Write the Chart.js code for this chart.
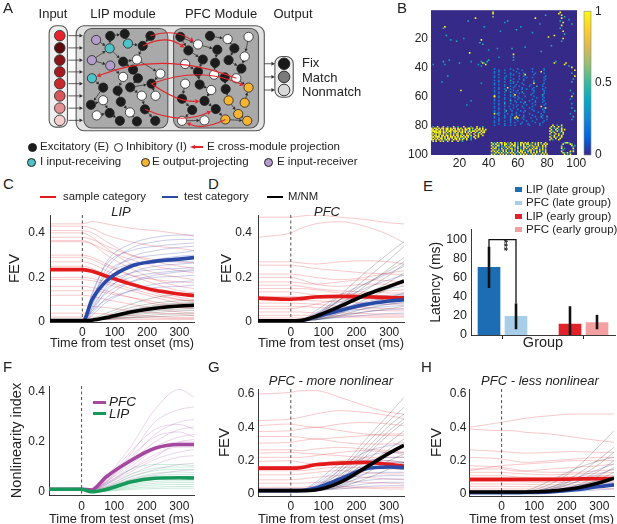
<!DOCTYPE html>
<html><head><meta charset="utf-8">
<script src="https://cdn.jsdelivr.net/npm/chart.js@4.4.1/dist/chart.umd.min.js"></script>
<style>
html,body{margin:0;padding:0;width:617px;height:524px;overflow:hidden;background:#fff;font-family:"Liberation Sans",Arial,sans-serif;color:#222}
canvas{position:absolute}
.t{position:absolute;white-space:nowrap;line-height:1}
.m{position:absolute;box-sizing:border-box}
</style></head><body>
<script>
// ---------------- DATA ----------------
const T = [-100, 0, 30, 75, 150, 225, 300, 345];
const timeTicks = [0, 100, 200, 300];
const fevTicksLow = [0, 0.2, 0.4];
const fevTicksHigh = [0, 0.2, 0.4, 0.6];
const nlTicks = [0, 0.2, 0.4];

// Panel C (LIP)
const cRedThin = [
 [0.44,0.44,0.45,0.44,0.42,0.41,0.395,0.385],
 [0.43,0.43,0.42,0.39,0.36,0.34,0.33,0.32],
 [0.41,0.41,0.40,0.36,0.30,0.27,0.25,0.24],
 [0.40,0.40,0.38,0.33,0.26,0.22,0.20,0.19],
 [0.38,0.38,0.37,0.34,0.30,0.28,0.27,0.265],
 [0.365,0.365,0.35,0.30,0.24,0.19,0.16,0.15],
 [0.36,0.36,0.35,0.32,0.28,0.25,0.23,0.22],
 [0.30,0.30,0.29,0.26,0.21,0.17,0.14,0.13],
 [0.29,0.29,0.28,0.25,0.21,0.19,0.18,0.175],
 [0.27,0.27,0.26,0.23,0.18,0.14,0.11,0.10],
 [0.25,0.25,0.24,0.21,0.17,0.13,0.10,0.09],
 [0.20,0.20,0.195,0.18,0.15,0.12,0.10,0.095],
 [0.19,0.19,0.185,0.17,0.14,0.11,0.085,0.075],
 [0.16,0.16,0.155,0.14,0.11,0.08,0.065,0.06],
 [0.14,0.14,0.14,0.13,0.11,0.09,0.07,0.065],
 [0.12,0.12,0.115,0.10,0.08,0.06,0.045,0.04],
 [0.075,0.075,0.07,0.065,0.05,0.04,0.035,0.03],
 [0.04,0.04,0.04,0.035,0.03,0.025,0.02,0.02],
 [0.022,0.022,0.022,0.02,0.02,0.018,0.015,0.015],
 [0.012,0.012,0.012,0.012,0.012,0.012,0.012,0.012]
];
const cBlueThin = [
 [0,0,0.12,0.27,0.35,0.38,0.39,0.39],
 [0,0,0.10,0.24,0.33,0.36,0.37,0.37],
 [0,0,0.13,0.26,0.32,0.34,0.35,0.355],
 [0,0,0.08,0.20,0.29,0.32,0.335,0.34],
 [0,0,0.10,0.22,0.28,0.30,0.31,0.32],
 [0,0,0.06,0.16,0.25,0.28,0.295,0.30],
 [0,0,0.09,0.19,0.25,0.27,0.28,0.285],
 [0,0,0.05,0.14,0.22,0.25,0.26,0.265],
 [0,0,0.08,0.17,0.22,0.235,0.24,0.245],
 [0,0,0.04,0.11,0.18,0.21,0.225,0.23],
 [0,0,0.06,0.13,0.18,0.20,0.205,0.21],
 [0,0,0.03,0.09,0.14,0.17,0.18,0.185],
 [0,0,0.05,0.10,0.14,0.155,0.16,0.165],
 [0,0,0.07,0.15,0.20,0.22,0.23,0.235],
 [0,0,0.11,0.21,0.26,0.27,0.27,0.27]
];
const cBlackThin = [
 [0.01,0.01,0.015,0.04,0.08,0.11,0.125,0.13],
 [0.01,0.01,0.012,0.03,0.065,0.085,0.095,0.097],
 [0.008,0.008,0.01,0.025,0.055,0.075,0.085,0.088],
 [0.01,0.01,0.011,0.02,0.045,0.065,0.075,0.078],
 [0.006,0.006,0.008,0.018,0.04,0.058,0.066,0.068],
 [0.01,0.01,0.01,0.015,0.035,0.05,0.058,0.06],
 [0.008,0.008,0.009,0.014,0.03,0.042,0.05,0.052],
 [0.005,0.005,0.007,0.012,0.022,0.032,0.038,0.04],
 [0.01,0.01,0.01,0.012,0.018,0.024,0.028,0.03],
 [0.004,0.004,0.006,0.02,0.05,0.07,0.08,0.083]
];
const cRedMean = [0.235,0.235,0.228,0.205,0.17,0.142,0.126,0.118];
const cBlueMean = [0,0,0.10,0.185,0.25,0.272,0.282,0.289];
const cBlackMean = [0.006,0.006,0.008,0.02,0.045,0.062,0.072,0.075];

// Panel D (PFC)
const dRedThin = [
 [0.47,0.47,0.475,0.48,0.47,0.46,0.445,0.44],
 [0.38,0.40,0.42,0.44,0.45,0.43,0.39,0.355],
 [0.27,0.27,0.265,0.26,0.27,0.275,0.27,0.26],
 [0.255,0.255,0.25,0.24,0.23,0.22,0.215,0.21],
 [0.215,0.215,0.21,0.20,0.19,0.20,0.22,0.23],
 [0.20,0.20,0.19,0.17,0.16,0.17,0.17,0.165],
 [0.18,0.18,0.175,0.17,0.18,0.19,0.185,0.18],
 [0.165,0.165,0.16,0.15,0.14,0.135,0.13,0.13],
 [0.15,0.15,0.15,0.145,0.13,0.12,0.115,0.115],
 [0.135,0.135,0.13,0.12,0.11,0.105,0.10,0.10],
 [0.115,0.115,0.112,0.11,0.12,0.13,0.14,0.145],
 [0.10,0.10,0.098,0.095,0.09,0.085,0.08,0.08],
 [0.085,0.085,0.083,0.08,0.07,0.065,0.06,0.06],
 [0.07,0.07,0.07,0.065,0.06,0.055,0.05,0.05],
 [0.045,0.045,0.045,0.04,0.04,0.038,0.035,0.035],
 [0.03,0.03,0.03,0.03,0.028,0.028,0.027,0.027],
 [0.018,0.018,0.018,0.02,0.022,0.022,0.022,0.022],
 [0.06,0.06,0.065,0.08,0.10,0.105,0.10,0.095]
];
const dBlueThin = [
 [0.005,0.005,0.006,0.04,0.10,0.15,0.19,0.21],
 [0.005,0.005,0.006,0.03,0.08,0.12,0.15,0.16],
 [0.005,0.005,0.006,0.025,0.06,0.09,0.11,0.12],
 [0.005,0.005,0.006,0.02,0.05,0.075,0.09,0.095],
 [0.005,0.005,0.006,0.015,0.04,0.06,0.07,0.075],
 [0.005,0.005,0.006,0.012,0.03,0.045,0.055,0.058],
 [0.005,0.005,0.006,0.01,0.02,0.03,0.038,0.04],
 [0.005,0.005,0.006,0.035,0.09,0.11,0.12,0.125],
 [0.005,0.005,0.006,0.02,0.045,0.07,0.08,0.085],
 [0.005,0.005,0.006,0.05,0.12,0.17,0.22,0.25]
];
const dBlackThin = [
 [0.005,0.005,0.007,0.03,0.12,0.22,0.31,0.36],
 [0.005,0.005,0.007,0.025,0.10,0.19,0.28,0.34],
 [0.005,0.005,0.007,0.02,0.08,0.16,0.24,0.29],
 [0.005,0.005,0.007,0.02,0.07,0.14,0.21,0.26],
 [0.005,0.005,0.007,0.015,0.06,0.12,0.18,0.22],
 [0.005,0.005,0.007,0.015,0.05,0.10,0.15,0.18],
 [0.005,0.005,0.007,0.01,0.04,0.08,0.11,0.13],
 [0.005,0.005,0.007,0.01,0.03,0.06,0.08,0.09],
 [0.005,0.005,0.007,0.03,0.10,0.17,0.23,0.27],
 [0.005,0.005,0.007,0.01,0.025,0.045,0.06,0.07]
];
const dRedMean = [0.107,0.102,0.105,0.112,0.115,0.113,0.11,0.108];
const dBlueMean = [0.005,0.005,0.006,0.022,0.052,0.078,0.094,0.10];
const dBlackMean = [0.005,0.005,0.007,0.025,0.07,0.12,0.16,0.184];

// Panel F (nonlinearity index)
const fPfcThin = [
 [0.012,0.012,0.01,0.06,0.18,0.33,0.41,0.38],
 [0.012,0.012,0.01,0.05,0.15,0.28,0.33,0.34],
 [0.012,0.012,0.01,0.045,0.13,0.23,0.28,0.29],
 [0.012,0.012,0.01,0.04,0.12,0.20,0.25,0.26],
 [0.012,0.012,0.01,0.04,0.11,0.18,0.22,0.23],
 [0.012,0.012,0.01,0.035,0.10,0.17,0.20,0.20],
 [0.012,0.012,0.01,0.03,0.09,0.15,0.18,0.18],
 [0.012,0.012,0.01,0.03,0.08,0.13,0.16,0.17],
 [0.012,0.012,0.01,0.025,0.07,0.11,0.14,0.145],
 [0.012,0.012,0.01,0.02,0.06,0.09,0.11,0.115],
 [0.012,0.012,0.01,0.02,0.05,0.07,0.085,0.09],
 [0.012,0.012,0.01,0.015,0.04,0.055,0.06,0.06],
 [0.012,0.012,0.01,0.05,0.16,0.25,0.27,0.25],
 [0.012,0.012,0.01,0.04,0.14,0.22,0.24,0.22],
 [0.012,0.012,0.01,0.035,0.09,0.14,0.20,0.21]
];
const fLipThin = [
 [0.011,0.011,0.002,0.02,0.07,0.095,0.10,0.10],
 [0.011,0.011,0.002,0.015,0.06,0.085,0.09,0.088],
 [0.011,0.011,0.001,0.012,0.05,0.075,0.08,0.078],
 [0.011,0.011,0.001,0.01,0.045,0.065,0.07,0.07],
 [0.011,0.011,0.001,0.01,0.04,0.058,0.062,0.06],
 [0.011,0.011,0.001,0.008,0.035,0.05,0.053,0.052],
 [0.011,0.011,0.001,0.007,0.03,0.042,0.045,0.045],
 [0.011,0.011,0.0,0.006,0.025,0.035,0.038,0.038],
 [0.011,0.011,0.0,0.005,0.02,0.028,0.03,0.03],
 [0.011,0.011,0.0,0.004,0.015,0.02,0.022,0.022],
 [0.011,0.011,0.0,0.003,0.01,0.014,0.015,0.015],
 [0.011,0.011,0.002,0.03,0.09,0.11,0.11,0.105]
];
const fPfcMean = [0.011,0.011,0.008,0.06,0.125,0.175,0.19,0.19];
const fLipMean = [0.011,0.011,0.001,0.01,0.04,0.055,0.057,0.056];

// Panel G (PFC - more nonlinear)
const gRedThin = [
 [0.60,0.61,0.62,0.62,0.58,0.53,0.49,0.48],
 [0.44,0.45,0.46,0.48,0.50,0.49,0.47,0.45],
 [0.41,0.42,0.41,0.40,0.42,0.43,0.42,0.41],
 [0.375,0.38,0.39,0.40,0.38,0.36,0.35,0.35],
 [0.345,0.345,0.34,0.33,0.34,0.35,0.36,0.36],
 [0.305,0.31,0.32,0.33,0.31,0.30,0.30,0.31],
 [0.265,0.265,0.26,0.27,0.28,0.27,0.26,0.25],
 [0.245,0.25,0.245,0.24,0.23,0.22,0.22,0.22],
 [0.22,0.22,0.22,0.23,0.25,0.26,0.25,0.24],
 [0.195,0.20,0.19,0.18,0.18,0.19,0.19,0.185],
 [0.165,0.165,0.17,0.18,0.20,0.21,0.20,0.19],
 [0.14,0.14,0.14,0.15,0.16,0.16,0.15,0.15],
 [0.115,0.115,0.12,0.13,0.14,0.13,0.12,0.12],
 [0.085,0.085,0.09,0.10,0.11,0.10,0.09,0.085],
 [0.065,0.065,0.065,0.07,0.075,0.07,0.065,0.06],
 [0.04,0.04,0.04,0.045,0.045,0.04,0.04,0.04],
 [0.03,0.03,0.03,0.032,0.035,0.035,0.03,0.03]
];
const gBlueThin = [
 [0.02,0.02,0.022,0.06,0.16,0.25,0.29,0.30],
 [0.02,0.02,0.022,0.05,0.14,0.22,0.25,0.25],
 [0.02,0.02,0.021,0.045,0.12,0.19,0.22,0.22],
 [0.02,0.02,0.021,0.04,0.10,0.17,0.19,0.19],
 [0.02,0.02,0.021,0.035,0.085,0.14,0.16,0.16],
 [0.02,0.02,0.021,0.03,0.07,0.12,0.13,0.13],
 [0.02,0.02,0.021,0.028,0.06,0.10,0.11,0.11],
 [0.02,0.02,0.021,0.025,0.05,0.08,0.09,0.09],
 [0.02,0.02,0.021,0.022,0.04,0.06,0.07,0.07],
 [0.02,0.02,0.021,0.022,0.03,0.045,0.05,0.05],
 [0.02,0.02,0.022,0.07,0.18,0.20,0.20,0.19]
];
const gBlackThin = [
 [0.02,0.02,0.021,0.04,0.15,0.32,0.48,0.58],
 [0.02,0.02,0.021,0.035,0.13,0.29,0.44,0.52],
 [0.02,0.02,0.021,0.03,0.11,0.26,0.41,0.48],
 [0.02,0.02,0.021,0.03,0.10,0.24,0.38,0.45],
 [0.02,0.02,0.021,0.028,0.09,0.22,0.36,0.43],
 [0.02,0.02,0.021,0.025,0.08,0.19,0.31,0.38],
 [0.02,0.02,0.021,0.025,0.07,0.16,0.27,0.33],
 [0.02,0.02,0.021,0.024,0.06,0.14,0.24,0.29],
 [0.02,0.02,0.021,0.022,0.05,0.12,0.20,0.24],
 [0.02,0.02,0.021,0.022,0.04,0.09,0.15,0.19]
];
const gRedMean = [0.155,0.155,0.158,0.175,0.185,0.19,0.178,0.168];
const gBlueMean = [0.02,0.02,0.021,0.035,0.09,0.15,0.162,0.158];
const gBlackMean = [0.02,0.02,0.02,0.024,0.07,0.155,0.245,0.292];

// Panel H (PFC - less nonlinear)
const hRedThin = [
 [0.40,0.43,0.44,0.455,0.47,0.48,0.48,0.48],
 [0.39,0.38,0.38,0.37,0.36,0.34,0.32,0.31],
 [0.265,0.255,0.25,0.245,0.25,0.255,0.25,0.25],
 [0.22,0.21,0.20,0.19,0.20,0.21,0.22,0.22],
 [0.17,0.16,0.15,0.14,0.15,0.16,0.17,0.18],
 [0.15,0.15,0.14,0.135,0.13,0.13,0.14,0.145],
 [0.13,0.13,0.125,0.12,0.115,0.12,0.125,0.13],
 [0.11,0.11,0.105,0.10,0.10,0.105,0.11,0.11],
 [0.09,0.09,0.09,0.088,0.085,0.085,0.09,0.09],
 [0.075,0.075,0.075,0.072,0.07,0.07,0.072,0.075],
 [0.06,0.06,0.06,0.058,0.055,0.055,0.058,0.06],
 [0.046,0.046,0.045,0.044,0.042,0.042,0.045,0.046],
 [0.03,0.03,0.03,0.03,0.03,0.03,0.032,0.033],
 [0.14,0.17,0.175,0.18,0.19,0.20,0.20,0.20]
];
const hBlueThin = [
 [0.008,0.008,0.008,0.01,0.03,0.07,0.12,0.15],
 [0.008,0.008,0.008,0.01,0.02,0.05,0.08,0.10],
 [0.008,0.008,0.008,0.009,0.015,0.035,0.06,0.07],
 [0.008,0.008,0.008,0.009,0.012,0.025,0.04,0.05],
 [0.008,0.008,0.008,0.009,0.01,0.015,0.025,0.03],
 [0.008,0.008,0.008,0.012,0.04,0.09,0.15,0.18]
];
const hBlackThin = [
 [0.01,0.01,0.01,0.015,0.06,0.15,0.29,0.38],
 [0.01,0.01,0.01,0.012,0.04,0.11,0.21,0.28],
 [0.01,0.01,0.01,0.012,0.03,0.09,0.18,0.25],
 [0.01,0.01,0.01,0.011,0.025,0.07,0.14,0.20],
 [0.01,0.01,0.01,0.011,0.02,0.05,0.11,0.16],
 [0.01,0.01,0.01,0.01,0.015,0.04,0.09,0.13],
 [0.01,0.01,0.01,0.01,0.012,0.03,0.07,0.10],
 [0.01,0.01,0.01,0.02,0.08,0.15,0.20,0.22]
];
const hRedMean = [0.088,0.088,0.088,0.088,0.088,0.09,0.092,0.094];
const hBlueMean = [0.008,0.008,0.008,0.009,0.013,0.025,0.045,0.055];
const hBlackMean = [0.012,0.012,0.012,0.012,0.018,0.035,0.068,0.095];

// Panel E (latency)
const eGroups = ['LIP (late group)', 'PFC (late group)', 'LIP (early group)', 'PFC (early group)'];
const eSlot = [1, 2, 4, 5];
const eLatency = [70.5, 19.5, 11.5, 13];
const eErrLow = [49, 6, 0, 6];
const eErrHigh = [92, 33, 30, 21];
const eTicks = [0, 20, 40, 60, 80, 100];
const eGroupTicks = [1.5, 4.5];
const eSigLevel = 99.5;

// Panel B (connectivity heatmap): "row|startCol|pattern", digit d => value d/9
const heatRows = [
 "81|1|.4..9...8..4...9..4...9....4...9...4",
 "82|1|9.98.9.99.89.9.98.9.9..9.99.9..9.8.9..",
 "83|1|99.99.9.9.99.99.9.99.9.99.9.4.9.99.9.9",
 "84|1|9999.99.9.9.99.998.9.9.9.49.99.9..9.9.",
 "85|1|9.99999.99.9.9.49.9.99.9.9.9..9.49.99.",
 "86|1|99.9.99.9.9.49.9.99.49..9.9..9..9.9...",
 "87|1|9.99.9.99.99.9.9.89.9.9.99.9..9.9..9..",
 "88|1|99.999.9.9.9.99.9.9.99.9.9.4.9..9.....",
 "89|1|9.9.9.99.9.99.9.99.9.49.9..4..9.......",
 "90|1|99.9.9.9.49.9..9.9.9.9..9..4..........",
 "91|1|.9.9..9.9..9..9...9..4................",
 "92|42|9.4.9.99.9.4.9..9.4.99.9.9..9.4.9.9..9",
 "93|42|.9.9.4.9.99.4.9.9.4.9.9.99.4..9.9.4.9.9",
 "94|42|9.4.99.4.9.4.9.99.4.9.9.4.9.9.4.9..9.9.",
 "95|42|.9.9.4.44.9.9.4.9.9.4.99.9.4.9.9.4.9.9.",
 "96|42|9.99.4.9.4.9.99.4.9.4.9.9.4.9.99.4.9.4.",
 "97|42|.9.4.9.49.9.4.9.9.4.9.9.4.99.9.4.9.9.9.",
 "98|42|9.9.9.4.9.9.4.9.4.9.99.4.9.9.4.9.9.4.9.",
 "99|42|.4.9.9.9.4.9.9.9.4.9.9.9.4.9.9.9.4.9.9.",
 "100|42|9.9.4.9.9.9.4.9.9.4.9.9.9.4.9.9.4.9.9.9",
 "80|82|..9..4..9...",
 "81|82|.9.9..9.4...",
 "82|82|9..4.9..9...",
 "83|82|.9..9.4.9.9.",
 "84|82|9.4..9..9...",
 "85|82|.9.9...4.9..",
 "86|82|9...9.9..9..",
 "87|82|.4.9..9.9...",
 "88|82|9..9.4..9...",
 "89|82|.9..9..9....",
 "90|82|9.4...9.....",
 "92|89|...4994.....",
 "93|89|..9....94...",
 "94|89|.4......9.4.",
 "95|89|.9.......4..",
 "96|89|.9.4.....9..",
 "97|89|..4......4..",
 "98|89|.9.....9.9..",
 "99|89|..94.9.4....",
 "100|89|...9.4.9....",
 "41|42|..2..........2....2.........2.......2...",
 "42|42|.....2...2.....2.....2..............2...",
 "43|42|..2..2...........2..........2.....9.....",
 "44|42|..2......2...2.....2..2.......2.....2...",
 "45|42|.....2.......2.2.......9.....2..........",
 "46|42|..2.......2........2..2..............2..",
 "47|42|..2..2...2...2..........2...2.......2...",
 "48|42|.........2.....2...2..2..............2..",
 "49|42|..2..2.......4........2......2......2...",
 "50|42|.....2...2.....2..2..........2..........",
 "51|42|..2..........2.2.....2.......9......2...",
 "52|42|..2..2...2.......2....2....2.......2....",
 "53|42|.........2...2..2..2......2....4...2....",
 "54|42|..2..2.....9...2.....2.......2.......2..",
 "55|42|.....2...2...2.......2..2...2......2....",
 "56|42|..2.......4....2..2..........2......2...",
 "57|42|..2..2...2...4...2...4.......2......2...",
 "58|42|.....2.........2...2..2.....2.......2...",
 "59|42|..2......2...2..9..........2.......4....",
 "60|42|..9..2.......2.2..2....2.....2.....2....",
 "61|42|.....2...2......2..2...........2....2...",
 "62|42|..2......2...2....2..2......2......2....",
 "63|42|..2..2.......4..2.........2...2.....2...",
 "64|42|.........2.......2..2..4......2....2....",
 "65|42|..2..2...4...2........2.....2........2..",
 "66|42|.....2.........2..2.....2.....2.....2...",
 "67|42|..2......2..2....2...2......2.....9.....",
 "68|42|..2..2.........2......2...2.........2...",
 "69|42|.....2...2...2....2.........2......2....",
 "70|42|..2.......4...2.....2..2.....2......2...",
 "71|42|..2..2...2.......2....2.........2...2...",
 "72|42|..9..2.....2..2..2........2.......2.....",
 "73|42|.....2...2....2....2..2.....2......2....",
 "74|42|..2......2...2...9....2.......2...4.....",
 "75|42|..2..2...2...2..2.9..2.....2.......2....",
 "76|42|.....2.......2...2....2........2......2.",
 "77|42|..2..2...2...2....2.....2...2.......2...",
 "78|42|..2..........2..2....2........2....2....",
 "79|42|.....2...2..........2....2.......2......",
 "80|42|..2......2...2..2.........2......2......"
];
const heatDots = ["2,43,9","3,43,9","5,43,6","4,79,4","3,88,9","2,89,9","4,90,9","6,90,9","8,89,4","9,91,9","11,90,9","13,89,4","15,91,9","17,92,4","20,91,9","22,90,4","5,92,4","7,95,3","10,97,4","6,31,9","8,26,4","12,10,9","13,9,4","18,11,4","21,14,3","22,18,4","20,23,3","21,35,9","23,34,4","24,36,4","8,53,4","9,51,3","12,62,3","14,59,4","6,72,9","10,75,3","19,81,9","18,85,9","25,83,4","30,27,9","28,40,3","31,57,9","33,57,4","35,57,3","36,35,4","37,36,9","37,37,4","38,38,9","36,39,4","39,35,3","38,33,3","35,40,4","33,47,3","27,46,3","36,9,4","38,10,3","35,13,3","37,20,4","38,2,3","36,28,3","37,85,9","36,86,4","38,92,9","37,93,9","39,95,4","40,97,9","42,99,9","44,97,4","46,99,9","48,98,4","50,97,4","56,96,4","58,98,3","60,97,9","62,96,3","65,97,3","68,97,4","70,99,4","72,96,3","74,98,4","76,97,3","56,21,9","63,28,3","51,35,3","46,12,3","60,44,9","72,46,3","75,58,9","68,79,9","74,80,4","66,25,3","50,8,3","26,65,3","16,70,3","29,76,4","15,48,3","27,56,4","12,37,3"];
const heatTicks = [20, 40, 60, 80, 100];
const cbTicks = [0, 0.5, 1];
const parulaStops = [[0,'#352A87'],[0.125,'#0363E1'],[0.25,'#1485D4'],[0.375,'#06A7C6'],[0.5,'#38B99E'],[0.625,'#92BF73'],[0.75,'#D9BA56'],[0.875,'#FCCE2E'],[1,'#F9FB0E']];

// Panel A (schematic network): node layout and connections
const nodeX = [92.7,107.3,122.3,149,106.7,125.7,141,88.3,120.7,135,107.3,131,159.3,88.3,120.7,136,150,100,115,140,154.3,87.3,100,118.3,143.3,93.3,106.7,127.7,117.3,135,154,128,
 180,210.7,229,250.7,198.3,188.3,218.3,236,203.3,246.7,185,216,230,198.3,215,243.3,238,226,185,200,212,227,250.7,181.7,205,230,246.7,192.3,216.7,240,181.7,205,226.7,249.3];
const nodeY = [36.7,32.3,30,32.3,46,40.7,43.3,59,60.7,58.3,65,69.5,74,79,77.5,79,85,89.3,92.7,98.3,98.3,108.3,103.3,105,113.3,120,117.3,116.7,126,126.7,126,89,
 33.3,32.3,35.7,33.3,41.7,48.3,47.5,46,58.3,55,63.3,62,59,71.7,75,68.3,79,78,85,86,92,91,89.3,101.7,104,103.5,106,114,113,118.5,126,125.5,124.5,126];
const nodeType = "PEEECCEPEIPEICIEEEEIIEIEEIEIEEEE" + "EEIIIEEEEIIEEEIEIEIEIEOEEOOEEOIIOO";
const edges = [[0,4],[1,2],[2,5],[3,6],[4,8],[5,6],[6,9],[7,4],[7,10],[8,11],[9,12],[10,14],[11,15],[13,17],[14,18],[15,31],[31,16],[16,20],[17,21],[18,23],[19,24],[22,26],[23,27],[24,30],[26,28],[27,29],[25,26],[21,22],[12,16],[8,9],[1,4],[31,19],
 [32,37],[33,34],[34,39],[35,41],[36,38],[37,40],[38,43],[39,44],[41,47],[42,45],[43,46],[44,47],[45,51],[46,49],[47,48],[48,54],[50,55],[51,52],[52,56],[53,57],[55,59],[56,60],[57,61],[59,62],[60,64],[61,65],[62,63],[64,65],[58,54],[49,53],[32,36],[40,45]];
const crossProj = [[6,37,-14],[3,36,-12],[48,13,-28],[16,54,-20],[16,56,10],[24,60,16],[64,62,10]];
const inputY = [32, 45.5, 59, 72, 85, 98.5, 112, 125.5];
const inputColors = ['#e8232b','#5e0b10','#8b1519','#a81b20','#c9292c','#d8575b','#e39093','#f5cfcc'];
const outputY = [63, 77.5, 92];
const outputColors = ['#1a1a1a','#7a7a7a','#d9d9d9'];

// ---------------- STYLE / LAYOUT ----------------
const RED='#e31a1c', BLUE='#2a4aa8', BLACK='#000000', PURPLE='#a5489f', GREEN='#16995a';
const RED_T='rgba(228,40,45,0.36)', BLUE_T='rgba(40,50,170,0.36)', BLACK_T='rgba(20,20,20,0.32)', PURPLE_T='rgba(165,80,170,0.34)', GREEN_T='rgba(30,165,100,0.32)';
const eColors = ['#1d6db4','#a8cde9','#e2222a','#f3a0a2'];
const typeColor = {E:'#1c1c1c', I:'#ffffff', C:'#4fc3c7', O:'#f6b431', P:'#b49ccb'};
Chart.defaults.font.family = "'Liberation Sans', Arial, sans-serif";
Chart.defaults.color = '#222';

function mkCanvas(box){ const c=document.createElement('canvas'); c.width=box[2]; c.height=box[3]; c.style.left=box[0]+'px'; c.style.top=box[1]+'px'; c.style.width=box[2]+'px'; c.style.height=box[3]+'px'; document.body.appendChild(c); return c; }
function pts(arr){ return arr.map((v,i)=>({x:T[i], y:v})); }
function thinSets(rows,color,order){ return rows.map(r=>({data:pts(r), borderColor:color, borderWidth:0.7, order:order})); }
function meanSet(r,color,order){ return {data:pts(r), borderColor:color, borderWidth:3.6, order:order}; }
const baseOpts = {responsive:false, animation:false, events:[], plugins:{legend:{display:false}, tooltip:{enabled:false}}};

const zeroLine = {id:'zeroLine', beforeDatasetsDraw(chart){ const {ctx, chartArea:a, scales:{x}} = chart; const px=x.getPixelForValue(0); ctx.save(); ctx.strokeStyle='#222'; ctx.lineWidth=0.8; ctx.setLineDash([3,2.5]); ctx.beginPath(); ctx.moveTo(px,a.top); ctx.lineTo(px,a.bottom); ctx.stroke(); ctx.restore(); }};

function lineChart(box, area, cfg){
  const [bl,bt,bw,bh]=box, [al,at,ar,ab]=area;
  return new Chart(mkCanvas(box), {
    type:'line', data:{datasets:cfg.sets},
    options:Object.assign({}, baseOpts, {
      layout:{padding:{left:0, top:at-bt, right:bl+bw-ar, bottom:0}},
      elements:{point:{radius:0}, line:{cubicInterpolationMode:'monotone', tension:0.4, fill:false}},
      scales:{
        x:{type:'linear', min:-100, max:345, afterBuildTicks:s=>{s.ticks=timeTicks.map(v=>({value:v}));}, afterFit:s=>{s.height=bt+bh-ab;},
           ticks:{padding:cfg.xPad, font:{size:12}, color:'#222', maxRotation:0, autoSkip:false, callback:v=>String(v)},
           grid:{display:false, drawTicks:false}, border:{display:true, color:'#222', width:0.9},
           title:{display:true, text:'Time from test onset (ms)', font:{size:13.5}, color:'#222', padding:{top:0, bottom:cfg.xTitlePad}}},
        y:{type:'linear', min:cfg.yMin, max:cfg.yMax, afterBuildTicks:s=>{s.ticks=cfg.yTicks.map(v=>({value:v}));}, afterFit:s=>{s.width=al-bl;},
           ticks:{padding:cfg.yPad, font:{size:12}, color:'#222', autoSkip:false, callback:v=>String(v)},
           grid:{display:false, drawTicks:false}, border:{display:true, color:'#222', width:0.9},
           title:{display:true, text:cfg.yTitle, font:{size:cfg.yTitleSize}, color:'#222', padding:{top:cfg.yTitlePad, bottom:0}}}
      }
    }),
    plugins:[zeroLine]
  });
}

function stdSets(rt,bt,kt,rm,bm,km){ return [...thinSets(rt,RED_T,6), ...thinSets(bt,BLUE_T,5), ...thinSets(kt,BLACK_T,4), meanSet(rm,RED,2), meanSet(bm,BLUE,1), meanSet(km,BLACK,0)]; }

// C
lineChart([0,200,200,152],[50,215,194,322],{sets:stdSets(cRedThin,cBlueThin,cBlackThin,cRedMean,cBlueMean,cBlackMean), yMin:0, yMax:0.48, yTicks:fevTicksLow, yTitle:'FEV', yTitleSize:15, yTitlePad:6, yPad:5, xPad:3, xTitlePad:0.5});
// D
lineChart([205,200,205,152],[258,215,404,322],{sets:stdSets(dRedThin,dBlueThin,dBlackThin,dRedMean,dBlueMean,dBlackMean), yMin:0, yMax:0.48, yTicks:fevTicksLow, yTitle:'FEV', yTitleSize:15, yTitlePad:13, yPad:6, xPad:3, xTitlePad:0.5});
// F
lineChart([0,372,200,158],[49,386,194,495],{sets:[...thinSets(fPfcThin,PURPLE_T,3), ...thinSets(fLipThin,GREEN_T,2), meanSet(fPfcMean,PURPLE,1), meanSet(fLipMean,GREEN,0)], yMin:-0.012, yMax:0.424, yTicks:nlTicks, yTitle:'Nonlinearity index', yTitleSize:14.5, yTitlePad:8, yPad:4, xPad:4, xTitlePad:2.5});
// G
lineChart([205,372,205,158],[258,389,404,496],{sets:stdSets(gRedThin,gBlueThin,gBlackThin,gRedMean,gBlueMean,gBlackMean), yMin:-0.012, yMax:0.63, yTicks:fevTicksHigh, yTitle:'FEV', yTitleSize:15, yTitlePad:11, yPad:3.5, xPad:3.5, xTitlePad:2.5});
// H
lineChart([415,372,202,158],[469,389,614,496],{sets:stdSets(hRedThin,hBlueThin,hBlackThin,hRedMean,hBlueMean,hBlackMean), yMin:-0.012, yMax:0.63, yTicks:fevTicksHigh, yTitle:'FEV', yTitleSize:15, yTitlePad:12.5, yPad:2.5, xPad:3.5, xTitlePad:2.5});

// E
(function(){
  const box=[415,218,202,134], area=[471,228,615,335];
  const errPlugin = {id:'err', afterDatasetsDraw(chart){ const {ctx, scales:{x,y}}=chart; ctx.save(); ctx.strokeStyle='#111'; ctx.lineWidth=2.6; ctx.lineCap='butt';
    eSlot.forEach((s,i)=>{ const px=x.getPixelForValue(s); ctx.beginPath(); ctx.moveTo(px,y.getPixelForValue(eErrLow[i])); ctx.lineTo(px,y.getPixelForValue(eErrHigh[i])); ctx.stroke(); });
    ctx.lineWidth=1.3; const xa=x.getPixelForValue(eSlot[0]), xb=x.getPixelForValue(eSlot[1]), ys=y.getPixelForValue(eSigLevel);
    ctx.beginPath(); ctx.moveTo(xa,y.getPixelForValue(eErrHigh[0])+2); ctx.lineTo(xa,ys); ctx.lineTo(xb,ys); ctx.lineTo(xb,y.getPixelForValue(eErrHigh[1])); ctx.stroke(); ctx.restore(); }};
  new Chart(mkCanvas(box), {type:'bar',
    data:{datasets:eGroups.map((g,i)=>({label:g, data:[{x:eSlot[i], y:eLatency[i]}], backgroundColor:eColors[i], borderWidth:0, barThickness:22, grouped:false}))},
    options:Object.assign({}, baseOpts, {
      layout:{padding:{left:0, top:area[1]-box[1], right:box[0]+box[2]-area[2], bottom:0}},
      scales:{
        x:{type:'linear', min:0.333, max:5.667, offset:false, afterBuildTicks:s=>{s.ticks=eGroupTicks.map(v=>({value:v}));}, afterFit:s=>{s.height=box[1]+box[3]-area[3];},
           ticks:{display:false}, grid:{display:true, drawOnChartArea:false, drawTicks:true, tickLength:4, color:'#222', offset:false}, border:{display:true, color:'#222', width:0.9},
           title:{display:true, text:'Group', font:{size:14.5}, color:'#222', padding:{top:0,bottom:0}}},
        y:{type:'linear', min:0, max:110, afterBuildTicks:s=>{s.ticks=eTicks.map(v=>({value:v}));}, afterFit:s=>{s.width=area[0]-box[0];},
           ticks:{padding:4, font:{size:12.5}, color:'#222', autoSkip:false, callback:v=>String(v)}, grid:{display:false, drawTicks:false}, border:{display:true,color:'#222',width:0.9},
           title:{display:true, text:'Latency (ms)', font:{size:14}, color:'#222', padding:{top:13,bottom:0}}}
      }
    }),
    plugins:[errPlugin]});
})();

// B heatmap
function parula(v){ v=Math.max(0,Math.min(1,v)); for(let i=1;i<parulaStops.length;i++){ const [p1,c1]=parulaStops[i]; if(v<=p1){ const [p0,c0]=parulaStops[i-1]; const f=(v-p0)/(p1-p0); const a=[1,3,5].map(k=>parseInt(c0.substr(k,2),16)), b=[1,3,5].map(k=>parseInt(c1.substr(k,2),16)); return 'rgb('+a.map((q,j)=>Math.round(q+(b[j]-q)*f)).join(',')+')'; } } return parulaStops[parulaStops.length-1][1]; }
const heatCells = [];
heatRows.forEach(s=>{ const [r,c0,pat]=s.split('|'); for(let k=0;k<pat.length;k++){ const ch=pat[k]; if(ch!=='.') heatCells.push({x:+c0+k, y:+r, v:(+ch)/9}); } });
heatDots.forEach(s=>{ const [r,c,d]=s.split(',').map(Number); heatCells.push({x:c, y:r, v:d/9}); });
(function(){
  const box=[395,0,197,175], area=[431,9,577,155];
  const bg={id:'hbg', beforeDatasetsDraw(chart){ const {ctx, chartArea:a}=chart; ctx.save(); ctx.fillStyle=parula(0); ctx.fillRect(a.left,a.top,a.right-a.left,a.bottom-a.top); ctx.restore(); }};
  new Chart(mkCanvas(box), {type:'scatter',
    data:{datasets:[{data:heatCells, pointStyle:'rect', pointRadius:1.12, pointBorderWidth:0, pointBackgroundColor:c=>parula(c.raw?c.raw.v:0)}]},
    options:Object.assign({}, baseOpts, {
      layout:{padding:{left:0, top:area[1]-box[1], right:box[0]+box[2]-area[2], bottom:0}},
      scales:{
        x:{type:'linear', min:0.5, max:100.5, afterBuildTicks:s=>{s.ticks=heatTicks.map(v=>({value:v}));}, afterFit:s=>{s.height=box[1]+box[3]-area[3];},
           ticks:{padding:1.5, font:{size:12}, color:'#222', maxRotation:0, autoSkip:false, callback:v=>String(v)}, grid:{display:false,drawTicks:false}, border:{display:false}},
        y:{type:'linear', min:0.5, max:100.5, reverse:true, afterBuildTicks:s=>{s.ticks=heatTicks.map(v=>({value:v}));}, afterFit:s=>{s.width=area[0]-box[0];},
           ticks:{padding:3, font:{size:12}, color:'#222', autoSkip:false, callback:v=>String(v)}, grid:{display:false,drawTicks:false}, border:{display:false}}
      }
    }),
    plugins:[bg]});
})();
// colorbar
(function(){
  const box=[580,0,37,175], area=[584,9,591,155];
  const grad={id:'cb', beforeDatasetsDraw(chart){ const {ctx, chartArea:a, scales:{y}}=chart; const g=ctx.createLinearGradient(0,y.getPixelForValue(0),0,y.getPixelForValue(1)); parulaStops.forEach(([p,c])=>g.addColorStop(p,c)); ctx.save(); ctx.fillStyle=g; ctx.fillRect(a.left,a.top,a.right-a.left,a.bottom-a.top); ctx.strokeStyle='#888'; ctx.lineWidth=0.6; ctx.strokeRect(a.left,a.top,a.right-a.left,a.bottom-a.top); ctx.restore(); }};
  new Chart(mkCanvas(box), {type:'scatter', data:{datasets:[{data:[]}]},
    options:Object.assign({}, baseOpts, {
      layout:{padding:{left:area[0]-box[0], top:area[1]-box[1], right:0, bottom:box[1]+box[3]-area[3]}},
      scales:{ x:{display:false, min:0, max:1},
        y:{position:'right', min:0, max:1, afterBuildTicks:s=>{s.ticks=cbTicks.map(v=>({value:v}));}, afterFit:s=>{s.width=box[0]+box[2]-area[2];},
           ticks:{padding:4, font:{size:12}, color:'#222', autoSkip:false, callback:v=>String(v)}, grid:{display:false,drawTicks:false}, border:{display:false}}}
    }),
    plugins:[grad]});
})();

// A schematic
(function(){
  const box=[0,0,380,142];
  const R=4.6;
  function arrow(ctx,x0,y0,x1,y1,color,w,head){ const ang=Math.atan2(y1-y0,x1-x0); const bx=x1-head*Math.cos(ang), by=y1-head*Math.sin(ang); ctx.strokeStyle=color; ctx.fillStyle=color; ctx.lineWidth=w; ctx.beginPath(); ctx.moveTo(x0,y0); ctx.lineTo(bx,by); ctx.stroke(); ctx.beginPath(); ctx.moveTo(x1,y1); ctx.lineTo(bx+head*0.55*Math.sin(ang), by-head*0.55*Math.cos(ang)); ctx.lineTo(bx-head*0.55*Math.sin(ang), by+head*0.55*Math.cos(ang)); ctx.closePath(); ctx.fill(); }
  const schem={id:'schem',
    beforeDatasetsDraw(chart){ const {ctx, scales:{x,y}}=chart; const X=v=>x.getPixelForValue(v), Y=v=>y.getPixelForValue(v);
      ctx.save();
      const boxes=[[44,21,63,133,7,'#efefef'],[72,21,267,137,8,'#e2e2e2'],[80,24,167,134,8,'#a9a9a9'],[173,24,261,134,8,'#a9a9a9'],[278,55,297,100,7,'#efefef']];
      boxes.forEach(([x0,y0,x1,y1,r,f])=>{ ctx.beginPath(); ctx.roundRect(X(x0),Y(y0),X(x1)-X(x0),Y(y1)-Y(y0),r); ctx.fillStyle=f; ctx.fill(); ctx.lineWidth=1.1; ctx.strokeStyle='#555'; ctx.stroke(); });
      inputY.forEach(v=>arrow(ctx,X(64),Y(v),X(79),Y(v),'#333',0.8,3.5));
      outputY.forEach(v=>arrow(ctx,X(267),Y(v),X(278),Y(v),'#333',0.8,3.5));
      edges.forEach(([a,b])=>{ const x0=X(nodeX[a]),y0=Y(nodeY[a]),x1=X(nodeX[b]),y1=Y(nodeY[b]); const d=Math.hypot(x1-x0,y1-y0), ux=(x1-x0)/d, uy=(y1-y0)/d; arrow(ctx,x0+ux*R,y0+uy*R,x1-ux*(R+0.3),y1-uy*(R+0.3),'#2a2a2a',0.7,3); });
      ctx.restore(); },
    afterDatasetsDraw(chart){ const {ctx, scales:{x,y}}=chart; const X=v=>x.getPixelForValue(v), Y=v=>y.getPixelForValue(v);
      ctx.save();
      crossProj.forEach(([a,b,bend])=>{ const x0=X(nodeX[a]),y0=Y(nodeY[a]),x2=X(nodeX[b]),y2=Y(nodeY[b]); const cx=(x0+x2)/2, cy=(y0+y2)/2+bend; const d=Math.hypot(x2-cx,y2-cy), ux=(x2-cx)/d, uy=(y2-cy)/d; const ex=x2-ux*(R+0.5), ey=y2-uy*(R+0.5); const hx=ex-ux*4, hy=ey-uy*4;
        ctx.strokeStyle='#e2262c'; ctx.fillStyle='#e2262c'; ctx.lineWidth=1.1; ctx.beginPath(); ctx.moveTo(x0,y0); ctx.quadraticCurveTo(cx,cy,hx,hy); ctx.stroke();
        ctx.beginPath(); ctx.moveTo(ex,ey); ctx.lineTo(hx+uy*2.4,hy-ux*2.4); ctx.lineTo(hx-uy*2.4,hy+ux*2.4); ctx.closePath(); ctx.fill(); });
      ctx.restore(); }};
  const nodes=nodeX.map((v,i)=>({x:v,y:nodeY[i]}));
  new Chart(mkCanvas(box), {type:'scatter',
    data:{datasets:[
      {data:nodes, pointRadius:R, pointBorderWidth:0.8, pointBorderColor:'#222', pointBackgroundColor:nodeType.split('').map(t=>typeColor[t])},
      {data:inputY.map(v=>({x:55,y:v})), pointRadius:5.3, pointBorderWidth:0.9, pointBorderColor:'#333', pointBackgroundColor:inputColors},
      {data:outputY.map(v=>({x:287.5,y:v})), pointRadius:5.8, pointBorderWidth:0.9, pointBorderColor:'#222', pointBackgroundColor:outputColors}
    ]},
    options:Object.assign({}, baseOpts, {layout:{padding:0}, scales:{x:{display:false,min:0,max:380}, y:{display:false,min:0,max:142,reverse:true}}}),
    plugins:[schem]});
})();

// ---------------- HTML TEXT ----------------
function label(text,x,y,size,o){ o=o||{}; const d=document.createElement('div'); d.className='t'; d.textContent=text; d.style.fontSize=size+'px'; d.style.left=x+'px'; d.style.top=(y-0.49*size)+'px'; if(o.i) d.style.fontStyle='italic'; if(o.b) d.style.fontWeight='bold'; if(o.c) d.style.color=o.c; let tr=''; if(o.a==='c') tr='translateX(-50%)'; if(o.a==='r') tr='translateX(-100%)'; if(o.rot) tr+=' rotate('+o.rot+'deg)'; if(tr) d.style.transform=tr; document.body.appendChild(d); return d; }
function mark(x,y,w,h,bg,o){ o=o||{}; const d=document.createElement('div'); d.className='m'; d.style.left=(x-w/2)+'px'; d.style.top=(y-h/2)+'px'; d.style.width=w+'px'; d.style.height=h+'px'; d.style.background=bg; if(o.round){ d.style.borderRadius='50%'; d.style.border='0.9px solid #222'; } document.body.appendChild(d); return d; }

// panel letters
[['A',3,7],['B',397,7],['C',3,183],['D',208,183],['E',423,185],['F',3,366],['G',208,366],['H',421,366]].forEach(([s,x,y])=>label(s,x,y,15));
// A texts
label('Input',53,13,13,{a:'c'}); label('LIP module',123,13,13,{a:'c'}); label('PFC Module',221,13,13,{a:'c'}); label('Output',293,13,13,{a:'c'});
label('Fix',302,62,13); label('Match',302,77,13); label('Nonmatch',302,91.5,13);
mark(32,147,9,9,'#1c1c1c',{round:true}); label('Excitatory (E)',40,147,11.5);
mark(118,147,9,9,'#ffffff',{round:true}); label('Inhibitory (I)',126,147,11.5);
mark(198,147,9,1.6,'#e2262c'); (function(){ const d=document.createElement('div'); d.className='m'; d.style.left='190px'; d.style.top='144.5px'; d.style.width='0'; d.style.height='0'; d.style.borderTop='2.5px solid transparent'; d.style.borderBottom='2.5px solid transparent'; d.style.borderRight='5px solid #e2262c'; document.body.appendChild(d); })();
label('E cross-module projection',207,147,11.5);
mark(31,162,9,9,'#4fc3c7',{round:true}); label('I input-receiving',40,162,11.5);
mark(145,162,9,9,'#f6b431',{round:true}); label('E output-projecting',152,162,11.5);
mark(268,162,9,9,'#b49ccb',{round:true}); label('E input-receiver',277,162,11.5);
// C/D legend
mark(47.5,197,16,1.8,RED); label('sample category',63,196.5,11.3);
mark(170,197,16,1.8,BLUE); label('test category',184,196.5,11.3);
mark(275,197,16,1.8,BLACK); label('M/NM',288,196.5,11.3);
label('LIP',121,211.5,13,{a:'c',i:true}); label('PFC',327,211.5,13,{a:'c',i:true});
// E legend
eGroups.forEach((g,i)=>{ const yy=[189.3,203,216.5,229.3][i]; mark(518.5,yy,7,4.5,eColors[i]); label(g,526,yy,11.5); });
label('***',502.5,245,10,{a:'c',rot:90,b:true});
// F legend
mark(99.5,402,13,3,PURPLE); label('PFC',109,402,13.5,{i:true});
mark(99.5,413.5,13,3,GREEN); label('LIP',109,413.5,13.5,{i:true});
// G/H titles
label('PFC -  more nonlinear',331,380,13,{a:'c',i:true});
label('PFC -  less nonlinear',540,380,13,{a:'c',i:true});
</script>
</body></html>
